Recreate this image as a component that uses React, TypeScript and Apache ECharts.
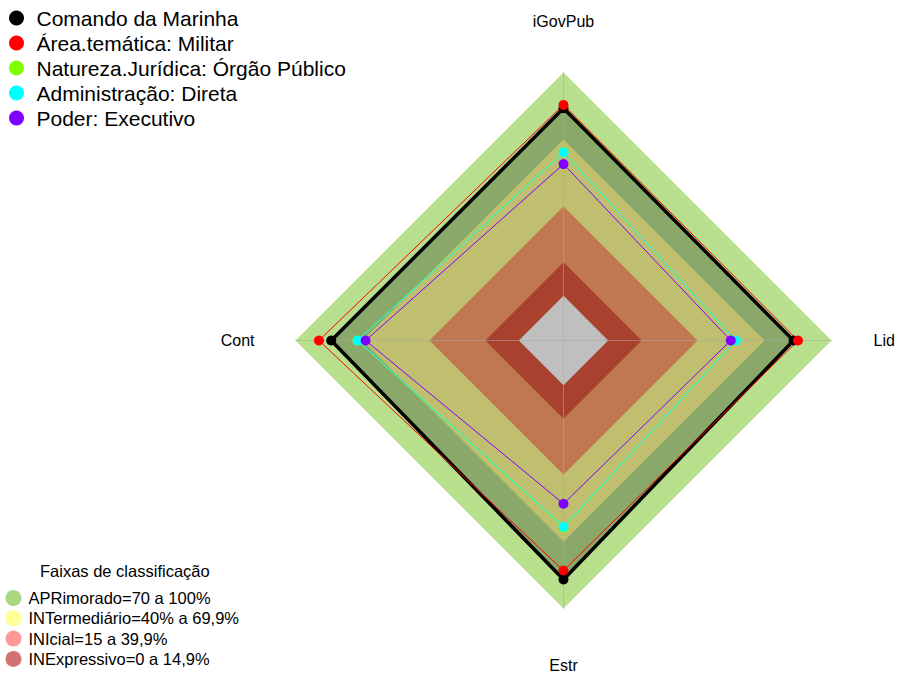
import React, { useEffect, useRef } from 'react';
import * as echarts from 'echarts';

// ---- Data ----
const indicators = ['iGovPub', 'Cont', 'Estr', 'Lid'];
const axisMin = -20;
const axisMax = 100;

const seriesNames = [
  'Comando da Marinha',
  'Área.temática: Militar',
  'Natureza.Jurídica: Órgão Público',
  'Administração: Direta',
  'Poder: Executivo',
];
const comandoMarinha = [84, 84, 87, 83];
const areaMilitar = [85.5, 89.5, 83, 85];
const naturezaOrgao = [64.5, 72.3, 63.8, 57];
const administracaoDireta = [64.3, 72.2, 63.4, 57.2];
const poderExecutivo = [59, 68.6, 53.1, 54.9];
const seriesValues = [comandoMarinha, areaMilitar, naturezaOrgao, administracaoDireta, poderExecutivo];

const bandNames = [
  'APRimorado=70 a 100%',
  'INTermediário=40% a 69,9%',
  'INIcial=15 a 39,9%',
  'INExpressivo=0 a 14,9%',
];
const bandUpper = [100, 70, 40, 15];
const centerUpper = 0;
const legendTitle = 'Faixas de classificação';

// ---- Styles ----
const FONT = 'Liberation Sans, Arial, sans-serif';
const lineColors = ['#000000', '#FF0000', '#80FF00', '#00FFFF', '#8000FF'];
const lineWidths = [3.5, 1, 1, 1, 1];
const bandFill = ['#B8E08C', '#BFBF6F', '#BF7850', '#A8412D'];
const bandLegend = ['#A9D881', '#FFFF99', '#FF9999', '#D27272'];
const centerFill = '#BFBFBF';
// per-axis label padding [top, right, bottom, left]
const namePads = [[0, 0, 2, 0], [0, 0, 0, 0], [8, 0, 0, 0], [0, 0, 0, 1]];

function vals(v: number) {
  return indicators.map(() => v);
}

export default function App() {
  const ref = useRef<HTMLDivElement>(null);
  useEffect(() => {
    document.body.style.margin = '0';
    const chart = echarts.init(ref.current!, undefined, { renderer: 'svg' });

    const series: any[] = [];
    series.push({
      type: 'radar', name: bandNames[0], z: 1, silent: true, symbol: 'none',
      itemStyle: { color: bandLegend[0] },
      lineStyle: { width: 0, opacity: 0 },
      data: [{ value: vals(bandUpper[0]), areaStyle: { color: bandFill[0], opacity: 1 } }],
    });
    series.push({
      type: 'radar', name: seriesNames[0], z: 1, silent: true, symbol: 'none',
      itemStyle: { color: lineColors[0] },
      lineStyle: { width: 0, opacity: 0 },
      data: [{ value: comandoMarinha, areaStyle: { color: 'rgba(0,0,0,0.25)', opacity: 1 } }],
    });
    for (let i = 1; i < bandUpper.length; i++) {
      series.push({
        type: 'radar', name: bandNames[i], z: 1, silent: true, symbol: 'none',
        itemStyle: { color: bandLegend[i] },
        lineStyle: { width: 0, opacity: 0 },
        data: [{ value: vals(bandUpper[i]), areaStyle: { color: bandFill[i], opacity: 1 } }],
      });
    }
    series.push({
      type: 'radar', name: 'centro', z: 1, silent: true, symbol: 'none',
      lineStyle: { width: 0, opacity: 0 },
      data: [{ value: vals(centerUpper), areaStyle: { color: centerFill, opacity: 1 } }],
    });
    seriesNames.forEach((n, i) => {
      series.push({
        type: 'radar', name: n, z: 3, silent: true,
        symbol: 'circle', symbolSize: 10,
        itemStyle: { color: lineColors[i] },
        lineStyle: { color: lineColors[i], width: lineWidths[i] },
        data: [{ value: seriesValues[i] }],
      });
    });

    const rich: any = {};
    indicators.forEach((_, i) => {
      rich['a' + i] = { color: '#000', fontSize: 16, fontFamily: FONT, padding: namePads[i] };
    });

    chart.setOption({
      animation: false,
      backgroundColor: '#ffffff',
      textStyle: { fontFamily: FONT },
      title: {
        text: legendTitle, left: 40, top: 562, padding: 0,
        textStyle: { fontSize: 16.5, fontWeight: 'normal', color: '#000', fontFamily: FONT },
      },
      legend: [
        {
          data: seriesNames.map((n, i) => ({ name: n, itemStyle: { color: lineColors[i] } })),
          orient: 'vertical', left: 9, top: 7.5, padding: 0,
          icon: 'circle', itemWidth: 30, itemHeight: 15, itemGap: 4,
          selectedMode: false,
          textStyle: { fontSize: 21, color: '#000', fontFamily: FONT },
        },
        {
          data: bandNames.map((n, i) => ({ name: n, itemStyle: { color: bandLegend[i] } })),
          orient: 'vertical', left: 5.5, top: 589.5, padding: 0,
          icon: 'circle', itemWidth: 20, itemHeight: 16, itemGap: 3.3,
          selectedMode: false,
          textStyle: { fontSize: 16.5, color: '#000', fontFamily: FONT },
        },
      ],
      radar: {
        center: [563.5, 340.5],
        radius: 268,
        startAngle: 90,
        shape: 'polygon',
        z: 2,
        nameGap: 41,
        indicator: indicators.map((n) => ({ name: n, min: axisMin, max: axisMax })),
        axisName: {
          color: '#000', fontSize: 16, fontFamily: FONT,
          formatter: (name: string) => '{a' + indicators.indexOf(name) + '|' + name + '}',
          rich,
        },
        splitLine: { show: false },
        splitArea: { show: false },
        axisLine: { lineStyle: { color: 'rgba(170,170,170,0.55)', width: 1 } },
      },
      series,
    });
    return () => chart.dispose();
  }, []);
  return <div ref={ref} style={{ width: 899, height: 675, position: 'fixed', left: 0, top: 0 }} />;
}
